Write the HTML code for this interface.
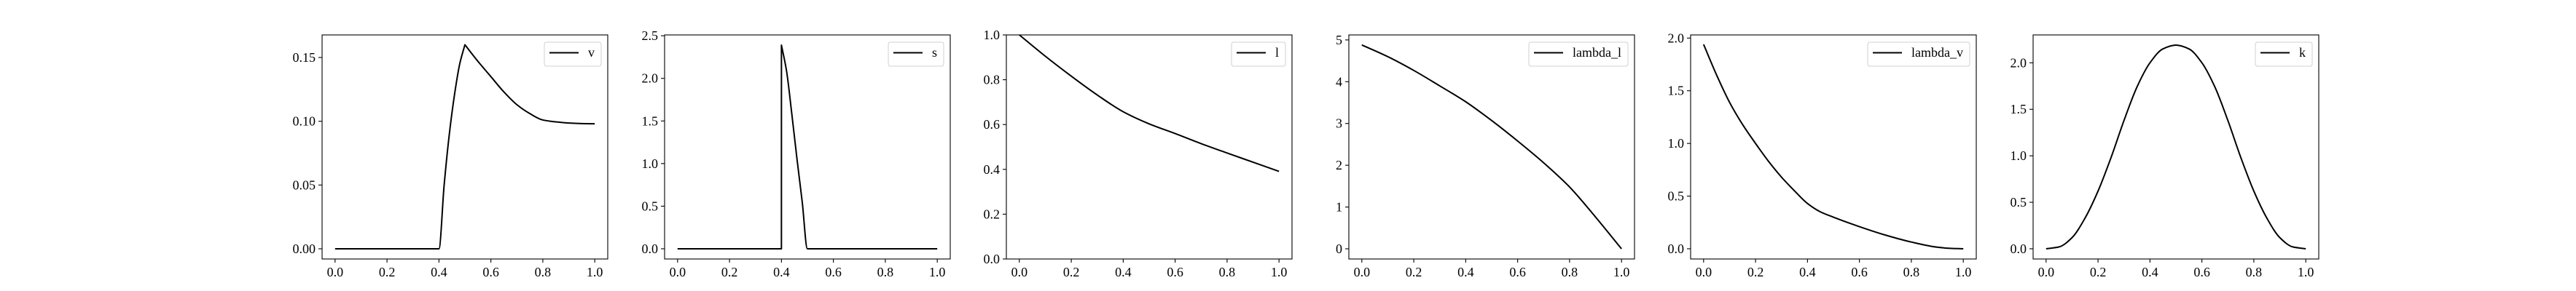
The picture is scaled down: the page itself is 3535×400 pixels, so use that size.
<!DOCTYPE html>
<html><head><meta charset="utf-8"><style>
body{margin:0;background:#fff;}
svg{display:block;font-family:"Liberation Serif","DejaVu Serif",serif;}
</style></head><body>
<svg id="fig" width="3535" height="400" viewBox="0 0 3535 400" xmlns="http://www.w3.org/2000/svg"></svg>
<script>
// ---- data ----
const vX = [0,0.1,0.2,0.3,0.4,0.42,0.44,0.46,0.48,0.5,0.55,0.6,0.65,0.7,0.75,0.8,0.85,0.9,0.95,1.0];
const vY = [0,0,0,0,0,0.05,0.09,0.121,0.145,0.160,0.147,0.135,0.123,0.113,0.106,0.101,0.0995,0.0986,0.0982,0.098];
const sX = [0,0.1,0.2,0.3,0.3999,0.4,0.42,0.44,0.46,0.48,0.5,0.6,0.7,0.8,0.9,1.0];
const sY = [0,0,0,0,0,2.39,2.08,1.58,1.05,0.55,0,0,0,0,0,0];
const lX = [0,0.1,0.2,0.3,0.4,0.5,0.6,0.7,0.8,0.9,1.0];
const lY = [1.0,0.905,0.816,0.732,0.657,0.603,0.56,0.515,0.473,0.432,0.391];
const llX = [0,0.1,0.2,0.3,0.4,0.5,0.6,0.7,0.8,0.9,1.0];
const llY = [4.88,4.6,4.27,3.9,3.52,3.07,2.58,2.06,1.48,0.76,0];
const lvX = [0,0.05,0.1,0.15,0.2,0.25,0.3,0.35,0.4,0.45,0.5,0.6,0.7,0.8,0.9,0.95,1.0];
const lvY = [1.94,1.65,1.39,1.18,1.0,0.83,0.68,0.55,0.43,0.35,0.3,0.21,0.13,0.064,0.015,0.004,0];
const kX = [0,0.05,0.1,0.15,0.2,0.25,0.3,0.35,0.4,0.45,0.5,0.55,0.6,0.65,0.7,0.75,0.8,0.85,0.9,0.95,1.0];
const kY = [0,0.02,0.12,0.33,0.62,0.98,1.38,1.74,2.0,2.15,2.19,2.15,2.0,1.74,1.38,0.98,0.62,0.33,0.12,0.02,0];
const xTicks = [0,0.2,0.4,0.6,0.8,1.0];
const xTickLabels = ["0.0","0.2","0.4","0.6","0.8","1.0"];
const names = ["v","s","l","lambda_l","lambda_v","k"];
const yTicks1 = [0,0.05,0.10,0.15], yLab1 = ["0.00","0.05","0.10","0.15"];
const yTicks2 = [0,0.5,1,1.5,2,2.5], yLab2 = ["0.0","0.5","1.0","1.5","2.0","2.5"];
const yTicks3 = [0,0.2,0.4,0.6,0.8,1.0], yLab3 = ["0.0","0.2","0.4","0.6","0.8","1.0"];
const yTicks4 = [0,1,2,3,4,5], yLab4 = ["0","1","2","3","4","5"];
const yTicks5 = [0,0.5,1,1.5,2], yLab5 = ["0.0","0.5","1.0","1.5","2.0"];
const yTicks6 = [0,0.5,1,1.5,2], yLab6 = ["0.0","0.5","1.0","1.5","2.0"];

const panels = [
 {x:vX,y:vY,yt:yTicks1,yl:yLab1,ymin:-0.008,ymax:0.1677,corner:true},
 {x:sX,y:sY,yt:yTicks2,yl:yLab2,ymin:-0.12,ymax:2.51,corner:true},
 {x:lX,y:lY,yt:yTicks3,yl:yLab3,ymin:0,ymax:1},
 {x:llX,y:llY,yt:yTicks4,yl:yLab4,ymin:-0.244,ymax:5.12},
 {x:lvX,y:lvY,yt:yTicks5,yl:yLab5,ymin:-0.097,ymax:2.03},
 {x:kX,y:kY,yt:yTicks6,yl:yLab6,ymin:-0.11,ymax:2.30}
];
const lefts=[442,912,1381,1851,2320,2790];
const TOP=48,BOT=356,W=392;
const NS="http://www.w3.org/2000/svg";
const svg=document.getElementById('fig');
function mk(tag,attrs,parent){const e=document.createElementNS(NS,tag);for(const k in attrs)e.setAttribute(k,attrs[k]);parent.appendChild(e);return e;}
function smoothPath(P,corner){
  const n=P.length; const mL=new Array(n).fill(0), mR=new Array(n).fill(0); const d=[];
  for(let i=0;i<n-1;i++){const dx=P[i+1][0]-P[i][0];d.push(dx<0.5?null:(P[i+1][1]-P[i][1])/dx);}
  for(let i=0;i<n;i++){
    const a=i>0?d[i-1]:null,b=i<n-1?d[i]:null;let m;
    if(a===null&&b===null)m=0;
    else if(a===null)m=b; else if(b===null)m=a;
    else if(a*b<0&&corner){mL[i]=a;mR[i]=b;continue;}
    else if(a*b<=0)m=0; else m=2/(1/a+1/b);
    mL[i]=m;mR[i]=m;
  }
  let s='M'+P[0][0].toFixed(2)+','+P[0][1].toFixed(2);
  for(let i=0;i<n-1;i++){
    const [x0,y0]=P[i],[x1,y1]=P[i+1];const h=x1-x0;
    if(d[i]===null){s+='L'+x1.toFixed(2)+','+y1.toFixed(2);continue;}
    let m0=mR[i],m1=mL[i+1];
    if(i>0&&d[i-1]===null)m0=d[i];
    if(i<n-2&&d[i+1]===null)m1=d[i];
    s+='C'+(x0+h/3).toFixed(2)+','+(y0+m0*h/3).toFixed(2)+' '+(x1-h/3).toFixed(2)+','+(y1-m1*h/3).toFixed(2)+' '+x1.toFixed(2)+','+y1.toFixed(2);
  }
  return s;
}
panels.forEach((p,i)=>{
  const L=lefts[i];
  const g=mk('g',{},svg);
  
  
  const sx=v=>L+(v+0.05)/1.1*W;
  const sy=v=>BOT-(v-p.ymin)/(p.ymax-p.ymin)*(BOT-TOP);
  const pts=p.x.map((xv,j)=>[sx(xv),sy(p.y[j])]);
  const path=mk('path',{d:smoothPath(pts,p.corner),fill:'none',stroke:'#000','stroke-width':2,'stroke-linejoin':'round'},g);
  
  
  const fr=mk('rect',{x:L,y:TOP,width:W,height:BOT-TOP,fill:'none',stroke:'#000','stroke-width':1.1},g);
  
  
  xTicks.forEach((t,j)=>{
    const X=sx(t);
    mk('line',{x1:X,x2:X,y1:BOT,y2:BOT+5,stroke:'#000','stroke-width':1.1},g);
    const tx=mk('text',{x:X,y:BOT+24,'font-size':18,'text-anchor':'middle',fill:'#000'},g);
    tx.textContent=xTickLabels[j];
    
    
  });
  p.yt.forEach((t,j)=>{
    const Y=sy(t);
    mk('line',{x1:L-5,x2:L,y1:Y,y2:Y,stroke:'#000','stroke-width':1.1},g);
    const ty=mk('text',{x:L-9,y:Y+6,'font-size':18,'text-anchor':'end',fill:'#000'},g);
    ty.textContent=p.yl[j];
    
    
  });
  const lg=mk('g',{},g);
  
  
  const tmp=mk('text',{'font-size':18,x:0,y:0},lg);tmp.textContent=names[i];
  const tw=tmp.getComputedTextLength();lg.removeChild(tmp);
  const lw=7+40+13+tw+9;
  const lx=L+W-9-lw, ly=TOP+10;
  mk('rect',{x:lx,y:ly,width:lw,height:33,rx:3,fill:'#fff',stroke:'#d0d0d0','stroke-width':1},lg);
  mk('line',{x1:lx+7,x2:lx+47,y1:ly+14.5,y2:ly+14.5,stroke:'#000','stroke-width':2},lg);
  const lt=mk('text',{x:lx+60,y:ly+20,'font-size':18,fill:'#000'},lg);
  lt.textContent=names[i];
  
  
});
</script>
</body></html>
